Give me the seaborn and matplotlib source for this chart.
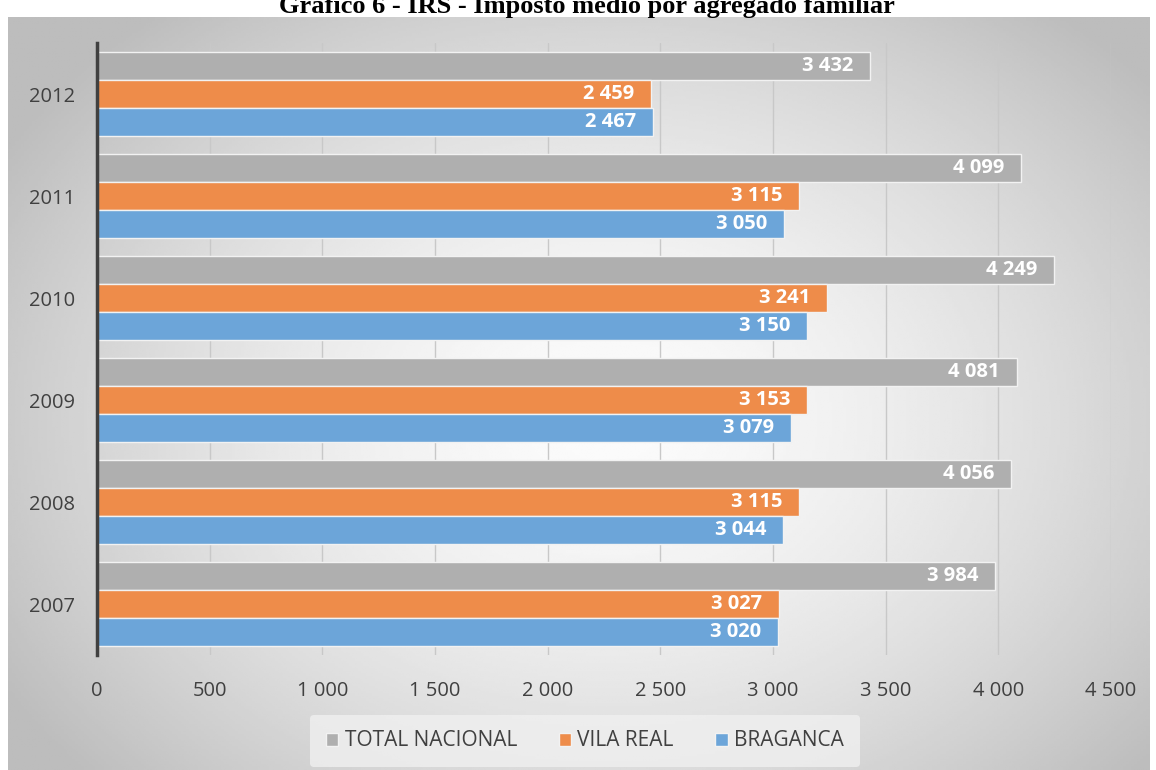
import matplotlib.pyplot as plt
import numpy as np
import seaborn as sns
import pandas as pd

# data
years = ['2012', '2011', '2010', '2009', '2008', '2007']
series = ['TOTAL NACIONAL', 'VILA REAL', 'BRAGANCA']
total_nacional = [3432, 4099, 4249, 4081, 4056, 3984]
vila_real = [2459, 3115, 3241, 3153, 3115, 3027]
braganca = [2467, 3050, 3150, 3079, 3044, 3020]
x_ticks = [0, 500, 1000, 1500, 2000, 2500, 3000, 3500, 4000, 4500]
title = 'Gráfico 6 - IRS - Imposto médio por agregado familiar'

colors = ['#AFAFAF', '#EE8C4A', '#6CA5D9']

df = pd.DataFrame({
    'Ano': years * 3,
    'Serie': [s for s in series for _ in years],
    'Valor': total_nacional + vila_real + braganca,
})

sns.set_theme(style="white")
plt.rcParams['font.family'] = ['Open Sans', 'DejaVu Sans']

W, H = 1156, 770
fig = plt.figure(figsize=(W / 100, H / 100), dpi=100)
fig.patch.set_facecolor('white')

# gradient background of the chart area
bg = fig.add_axes([8 / W, 0, 1142 / W, 1 - 17 / H], zorder=-2)
gx, gy = np.meshgrid(np.linspace(0, 1142, 400), np.linspace(17, 770, 300))
r = np.sqrt(((gx - 600) / 620) ** 2 + ((gy - 420) / 470) ** 2)
val = np.clip(0.985 - 0.2 * r ** 1.6, 0.74, 1)
bg.imshow(val, cmap='gray', vmin=0, vmax=1, aspect='auto', extent=[0, 1, 0, 1])
bg.set_axis_off()

ax = fig.add_axes([97 / W, 1 - 655 / H, (1111 - 97) / W, (655 - 43) / H])
ax.patch.set_alpha(0)

sns.barplot(data=df, y='Ano', x='Valor', hue='Serie', order=years, hue_order=series,
            palette=colors, orient='h', width=0.82, ax=ax, saturation=1,
            edgecolor='#f2f2f2', linewidth=1)

# value labels, white, right aligned inside the bar end
for cont in ax.containers:
    labels = [f"{int(v):,}".replace(',', ' ') for v in cont.datavalues]
    txts = ax.bar_label(cont, labels=labels, label_type='edge', padding=-12, color='white',
                        fontsize=14.5, fontweight='bold', fontfamily='Open Sans')
    for t in txts:
        t.set_ha('right')

ax.set_xlim(0, 4500)
ax.set_ylim(5.5, -0.5)
ax.set_xticks(x_ticks)
ax.set_xticklabels([f"{v:,}".replace(',', ' ') for v in x_ticks])
ax.tick_params(axis='x', length=0, pad=19, labelsize=14.5, labelcolor='#404040')
ax.tick_params(axis='y', length=0, pad=16, labelsize=14.5, labelcolor='#404040')
ax.set_xlabel('')
ax.set_ylabel('')
ax.grid(axis='x', color='#c8c8c8', linewidth=1)
ax.set_axisbelow(True)
for s in ['top', 'right', 'bottom']:
    ax.spines[s].set_visible(False)
ax.spines['left'].set_color('#404040')
ax.spines['left'].set_linewidth(2.5)
ax.spines['left'].set_zorder(5)

leg = ax.legend(loc='center', bbox_to_anchor=(585 / W, 1 - 741 / H), bbox_transform=fig.transFigure,
                ncol=3, frameon=True, fontsize=15, handlelength=0.6, handleheight=0.6,
                handletextpad=0.3, columnspacing=2.0, borderpad=0.75)
leg.get_frame().set_facecolor('#f0f0f0')
leg.get_frame().set_edgecolor('none')
leg.get_frame().set_alpha(0.8)
for txt in leg.get_texts():
    txt.set_color('#404040')

fig.text(587 / W, 1 - 13 / H, title, ha='center', va='baseline', fontsize=19,
         fontweight='bold', fontfamily='Liberation Serif', color='black')

fig.savefig('out.png', dpi=100)
